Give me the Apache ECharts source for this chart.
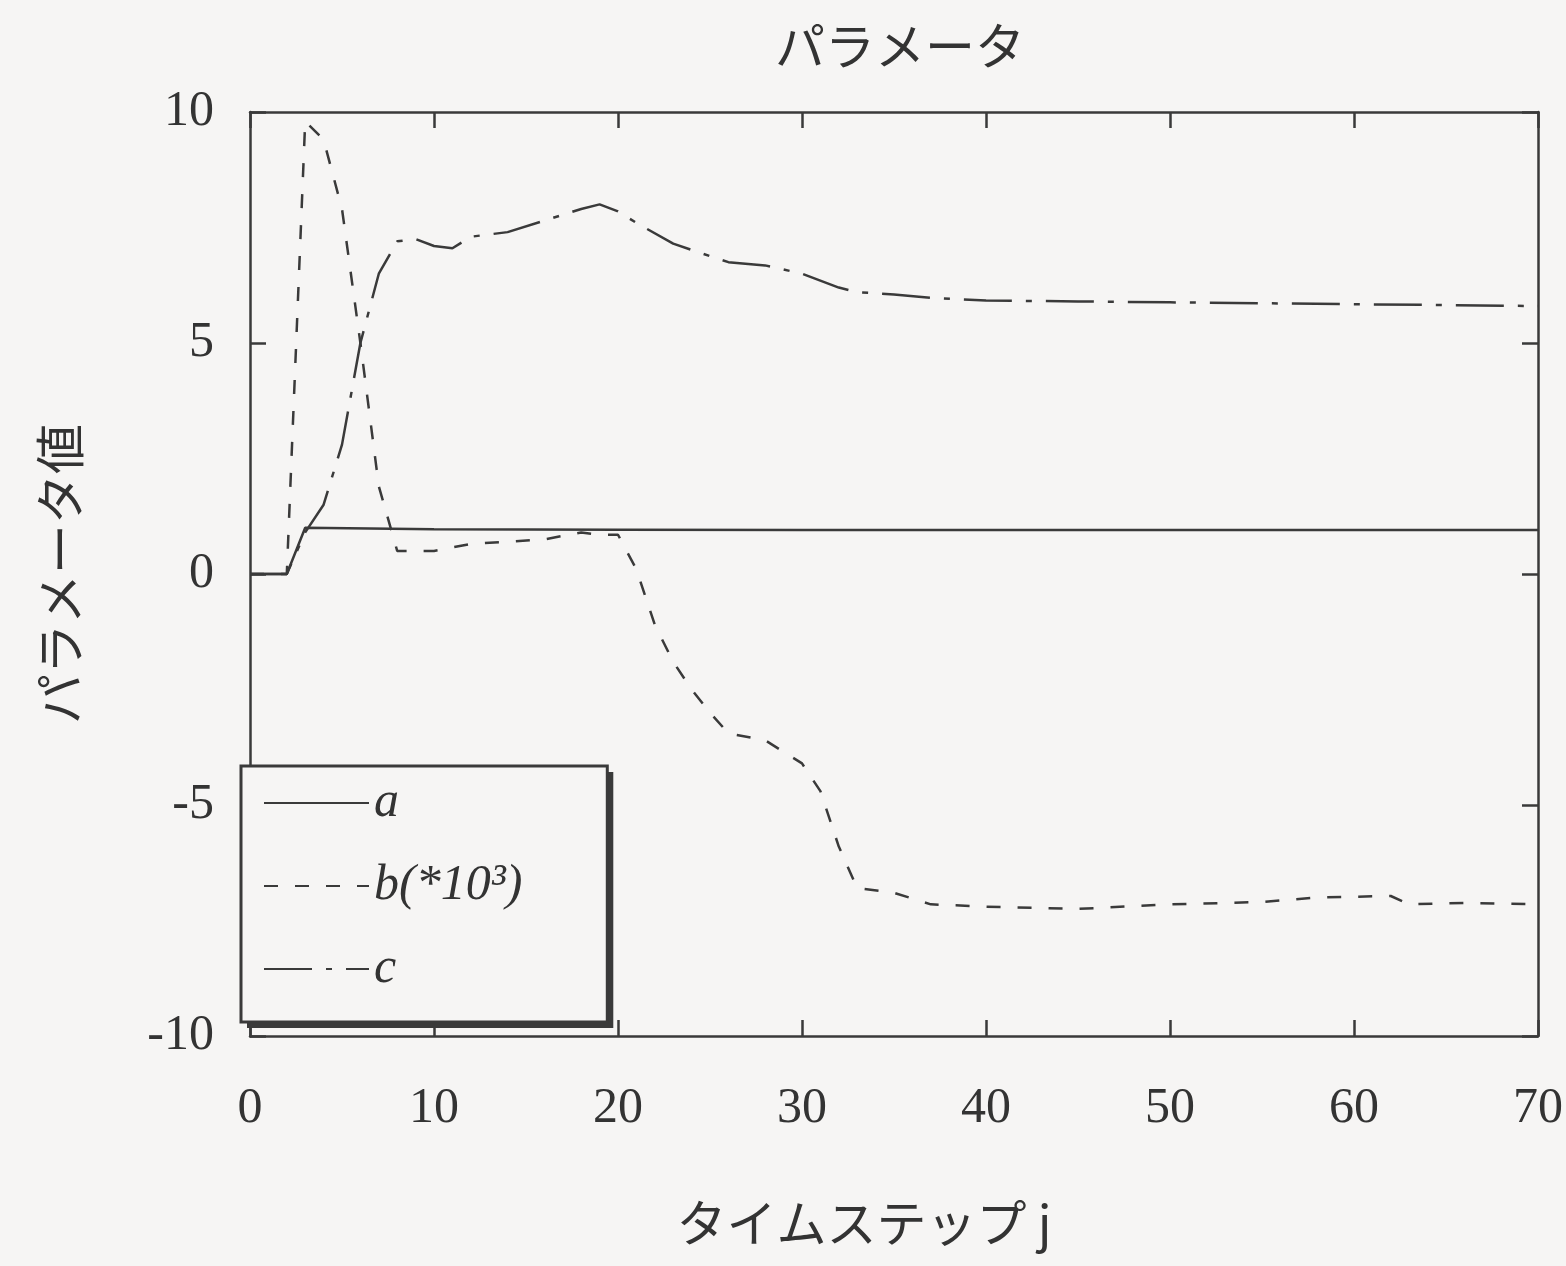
<!DOCTYPE html>
<html><head><meta charset="utf-8">
<script src="https://cdn.jsdelivr.net/npm/echarts@6/dist/echarts.min.js"></script>
<style>html,body{margin:0;padding:0;background:#f6f5f4}#c{width:1566px;height:1266px}</style>
</head><body><div id="c"></div>
<script>
// ---- text ----
const titleText = 'パラメータ';
const xAxisName = 'タイムステップ j';
const yAxisName = 'パラメータ値';
const seriesNames = ['a', 'b(*10³)', 'c'];

// ---- tick labels ----
const xTickLabels = [0, 10, 20, 30, 40, 50, 60, 70];
const yTickLabels = [-10, -5, 0, 5, 10];

// ---- series a (solid) ----
const aSteps  = [0, 2, 3, 10, 20, 30, 40, 50, 60, 70];
const aValues = [0, 0, 1.0, 0.97, 0.96, 0.95, 0.95, 0.95, 0.95, 0.95];

// ---- series b (dashed, *10^3) ----
const bSteps  = [0, 2, 3, 4, 5, 6, 7, 8, 10, 12, 14, 16, 18, 19, 20, 21, 22, 23, 24, 25, 26, 28, 30, 31, 32, 33, 35, 37, 40, 45, 50, 55, 58, 62, 63, 66, 70];
const bValues = [0, 0, 9.8, 9.4, 7.9, 5.0, 1.9, 0.5, 0.5, 0.65, 0.7, 0.75, 0.9, 0.85, 0.85, 0.1, -1.1, -1.9, -2.5, -3.0, -3.45, -3.6, -4.1, -4.7, -5.9, -6.8, -6.9, -7.15, -7.2, -7.25, -7.15, -7.1, -7.0, -6.97, -7.15, -7.12, -7.15];

// ---- series c (dash-dot) ----
const cSteps  = [0, 2, 3, 4, 5, 6, 7, 8, 9, 10, 11, 12, 14, 16, 18, 19, 20, 21, 23, 25, 26, 28, 30, 32, 33, 35, 37, 40, 45, 50, 55, 60, 65, 70];
const cValues = [0, 0, 0.9, 1.5, 2.8, 5.0, 6.5, 7.2, 7.25, 7.1, 7.05, 7.3, 7.4, 7.65, 7.9, 8.0, 7.85, 7.6, 7.15, 6.88, 6.75, 6.68, 6.5, 6.2, 6.1, 6.05, 5.98, 5.92, 5.9, 5.88, 5.86, 5.84, 5.82, 5.8];

const zip = (xs, ys) => xs.map((x, i) => [x, ys[i]]);

const ink = '#3a3a3a';
const paper = '#f6f5f4';
const serif = '"Liberation Serif", "Times New Roman", serif';
const cjk = '"Noto Sans CJK JP", sans-serif';

const lineBase = { color: ink, width: 2.5 };

const axisCommonX = {
  type: 'value', min: xTickLabels[0], max: xTickLabels[xTickLabels.length - 1],
  interval: xTickLabels[1] - xTickLabels[0],
  splitLine: { show: false },
  axisLine: { show: true, onZero: false, lineStyle: { color: ink, width: 2.5 } },
  axisTick: { show: true, inside: true, length: 16, lineStyle: { color: ink, width: 2.5 } }
};
const axisCommonY = {
  type: 'value', min: yTickLabels[0], max: yTickLabels[yTickLabels.length - 1],
  interval: yTickLabels[1] - yTickLabels[0],
  splitLine: { show: false },
  axisLine: { show: true, onZero: false, lineStyle: { color: ink, width: 2.5 } },
  axisTick: { show: true, inside: true, length: 16, lineStyle: { color: ink, width: 2.5 } }
};

const legendBase = {
  orient: 'vertical', left: 241, top: 766,
  itemWidth: 105, itemHeight: 14, itemGap: 31,
  padding: [11, 85, 27, 22],
  selectedMode: false,
  textStyle: { fontFamily: serif, fontStyle: 'italic', fontSize: 50, color: '#333', lineHeight: 52 },
  data: seriesNames
};

const chart = echarts.init(document.getElementById('c'), null, { renderer: 'canvas' });
chart.setOption({
  backgroundColor: paper,
  animation: false,
  title: {
    text: titleText, left: 895, top: 16, textAlign: 'center',
    textStyle: { fontFamily: cjk, fontWeight: 'normal', fontSize: 50, color: '#333' }
  },
  grid: { left: 250, right: 26, top: 112, bottom: 230 },
  legend: [
    // offset dark copy giving the thick right / bottom edge of the legend frame
    Object.assign({}, legendBase, {
      left: 247, top: 772, z: 3,
      backgroundColor: ink, borderWidth: 0,
      itemStyle: { opacity: 0 }, lineStyle: { opacity: 0 },
      textStyle: Object.assign({}, legendBase.textStyle, { color: 'rgba(0,0,0,0)' })
    }),
    Object.assign({}, legendBase, {
      z: 4,
      backgroundColor: paper, borderColor: ink, borderWidth: 3,
      itemStyle: { opacity: 0 }
    })
  ],
  xAxis: [
    Object.assign({}, axisCommonX, {
      position: 'bottom',
      axisLabel: { show: true, margin: 48, fontFamily: serif, fontSize: 50, color: '#333' },
      name: xAxisName, nameLocation: 'middle', nameGap: 162,
      nameTextStyle: { fontFamily: cjk, fontSize: 50, color: '#333', padding: [0, 60, 0, 0] }
    }),
    Object.assign({}, axisCommonX, { position: 'top', axisLabel: { show: false } })
  ],
  yAxis: [
    Object.assign({}, axisCommonY, {
      position: 'left',
      axisLabel: { show: true, margin: 36, fontFamily: serif, fontSize: 50, color: '#333' },
      name: yAxisName, nameLocation: 'middle', nameGap: 165, nameRotate: 90,
      nameTextStyle: { fontFamily: cjk, fontSize: 50, color: '#333' }
    }),
    Object.assign({}, axisCommonY, { position: 'right', axisLabel: { show: false } })
  ],
  series: [
    { name: seriesNames[0], type: 'line', data: zip(aSteps, aValues), showSymbol: false, symbol: 'none',
      itemStyle: { color: ink }, lineStyle: Object.assign({}, lineBase, { type: 'solid' }) },
    { name: seriesNames[1], type: 'line', data: zip(bSteps, bValues), showSymbol: false, symbol: 'none',
      itemStyle: { color: ink }, lineStyle: Object.assign({}, lineBase, { type: [14, 17] }) },
    { name: seriesNames[2], type: 'line', data: zip(cSteps, cValues), showSymbol: false, symbol: 'none',
      itemStyle: { color: ink }, lineStyle: Object.assign({}, lineBase, { type: [48, 14, 6, 14] }) }
  ]
});
</script></body></html>
